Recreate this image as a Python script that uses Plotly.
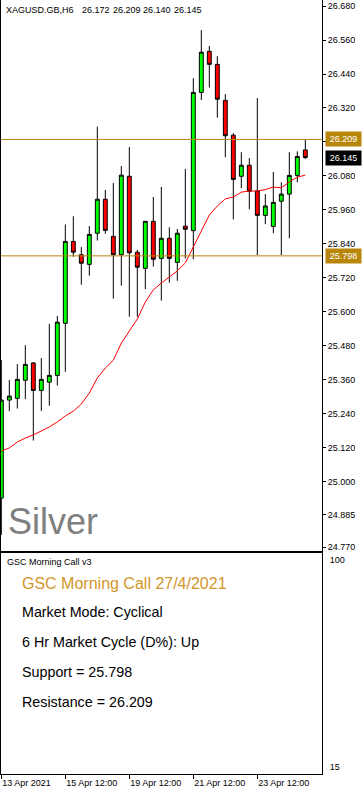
import plotly.graph_objects as go

# ---------------- data ----------------
bar_index = list(range(39))
opens = [24.943, 25.289, 25.295, 25.359, 25.420, 25.323, 25.352, 25.376, 25.560, 25.849,
         25.802, 25.768, 25.878, 25.998, 25.867, 25.802, 26.079, 25.811, 25.754, 25.920,
         25.789, 25.860, 25.775, 25.903, 25.887, 26.375, 26.520, 26.474, 26.347, 26.224,
         26.079, 26.118, 26.027, 25.941, 25.902, 25.991, 26.016, 26.082, 26.172]
highs = [25.430, 25.360, 25.416, 25.483, 25.423, 25.437, 25.558, 25.586, 25.909, 25.938,
         25.829, 25.903, 26.254, 26.031, 26.055, 26.115, 26.182, 25.819, 25.920, 26.006,
         26.041, 25.899, 25.893, 26.105, 26.425, 26.595, 26.539, 26.503, 26.369, 26.231,
         26.164, 26.143, 26.355, 26.016, 26.094, 26.058, 26.164, 26.167, 26.209]
lows = [24.813, 25.250, 25.259, 25.292, 25.146, 25.251, 25.269, 25.340, 25.389, 25.795,
        25.696, 25.728, 25.852, 25.876, 25.647, 25.693, 25.583, 25.583, 25.680, 25.760,
        25.640, 25.703, 25.710, 25.789, 25.786, 26.348, 26.392, 26.286, 26.146, 25.927,
        26.037, 25.962, 25.801, 25.910, 25.878, 25.801, 25.860, 26.058, 26.140]
closes = [25.289, 25.303, 25.362, 25.415, 25.323, 25.362, 25.376, 25.564, 25.849, 25.811,
          25.772, 25.874, 25.998, 25.888, 25.802, 26.083, 25.809, 25.758, 25.920, 25.786,
          25.860, 25.789, 25.878, 25.892, 26.375, 26.517, 26.474, 26.351, 26.222, 26.068,
          26.118, 26.026, 25.941, 25.974, 25.987, 26.016, 26.082, 26.149, 26.145]
moving_avg = [25.109, 25.120, 25.141, 25.155, 25.166, 25.180, 25.194, 25.212, 25.233, 25.250,
              25.275, 25.314, 25.367, 25.402, 25.430, 25.490, 25.533, 25.575, 25.635, 25.678,
              25.702, 25.723, 25.745, 25.773, 25.829, 25.889, 25.942, 25.974, 25.999, 26.006,
              26.023, 26.027, 26.027, 26.032, 26.041, 26.038, 26.059, 26.076, 26.083]

time_tick_index = [0, 8, 16, 24, 32]
time_tick_labels = ["13 Apr 2021", "15 Apr 12:00", "19 Apr 12:00", "21 Apr 12:00", "23 Apr 12:00"]
price_ticks = [26.680, 26.560, 26.440, 26.320, 26.200, 26.080, 25.960, 25.840, 25.720,
               25.600, 25.480, 25.360, 25.240, 25.120, 25.000, 24.885, 24.770]
hidden_price_ticks = [26.200]   # covered by the resistance tag in the reference
indicator_ticks = [100, 15]

symbol_label = "XAGUSD.GB,H6"
header_ohlc = [26.172, 26.209, 26.140, 26.145]
support = 25.798
resistance = 26.209
last_price = 26.145

panel_title = "GSC Morning Call 27/4/2021"
panel_name = "GSC Morning Call v3"
panel_lines = [
    "Market Mode: Cyclical",
    "6 Hr Market Cycle (D%): Up",
    "Support = 25.798",
    "Resistance = 26.209",
]

# ---------------- styling ----------------
GOLD = "#B8860B"
TITLE_GOLD = "#D2962A"
SMALL_FONT = "Liberation Sans, Arial, sans-serif"
ARIAL = "Liberation Sans, Arial, sans-serif"
SMALL = 9

fig = go.Figure()

fig.add_trace(go.Candlestick(
    x=bar_index, open=opens, high=highs, low=lows, close=closes,
    increasing=dict(line=dict(color="black", width=1), fillcolor="#00FF00"),
    decreasing=dict(line=dict(color="black", width=1), fillcolor="#FF0000"),
    whiskerwidth=0, xaxis="x", yaxis="y", showlegend=False, hoverinfo="skip",
))
fig.add_trace(go.Scatter(
    x=bar_index, y=moving_avg, mode="lines",
    line=dict(color="#FF0000", width=1), xaxis="x", yaxis="y",
    showlegend=False, hoverinfo="skip",
))
# empty trace so the indicator pane exists
fig.add_trace(go.Scatter(x=[None], y=[None], xaxis="x2", yaxis="y2",
                         showlegend=False, hoverinfo="skip"))

x_range = [-0.04, -0.04 + 321 / 8]

fig.update_layout(
    width=362, height=791,
    margin=dict(l=1, r=40, t=0, b=17, autoexpand=False),
    paper_bgcolor="white", plot_bgcolor="white",
    boxgap=0.3,
    xaxis=dict(domain=[0, 1], range=x_range, anchor="y", showticklabels=False,
               showline=True, mirror=True, linecolor="black", linewidth=1,
               showgrid=False, zeroline=False, ticks="", automargin=False,
               rangeslider=dict(visible=False), fixedrange=True),
    yaxis=dict(domain=[1 - 550.5 / 774, 1], range=[24.758, 26.7012], anchor="x",
               side="right", tickvals=price_ticks,
               ticktext=["" if v in hidden_price_ticks else f"{v:.3f}" for v in price_ticks],
               ticks="outside", ticklen=3, tickcolor="black", automargin=False,
               tickfont=dict(family=SMALL_FONT, size=SMALL, color="black"),
               showline=True, mirror=True, linecolor="black", linewidth=1,
               showgrid=False, zeroline=False, fixedrange=True),
    xaxis2=dict(domain=[0, 1], range=x_range, anchor="y2", matches="x",
                tickvals=time_tick_index, ticktext=time_tick_labels,
                ticks="outside", ticklen=4, tickcolor="black", tickangle=0,
                ticklabelposition="outside right", automargin=False,
                tickfont=dict(family=SMALL_FONT, size=SMALL, color="black"),
                showline=True, mirror=True, linecolor="black", linewidth=1,
                showgrid=False, zeroline=False, fixedrange=True),
    yaxis2=dict(domain=[0, 1 - 553 / 774], range=[12.13, 102.87], anchor="x2",
                side="right", tickvals=indicator_ticks,
                ticktext=[str(v) for v in indicator_ticks], ticks="",
                ticklabelstandoff=5, automargin=False,
                tickfont=dict(family=SMALL_FONT, size=SMALL, color="black"),
                showline=True, mirror=True, linecolor="black", linewidth=1,
                showgrid=False, zeroline=False, fixedrange=True),
)

# support / resistance lines
for lvl in (resistance, support):
    fig.add_shape(type="line", xref="x domain", x0=0, x1=1, yref="y", y0=lvl, y1=lvl,
                  line=dict(color=GOLD, width=1), layer="above")

# price tags on the right axis
for lvl, bg in ((resistance, GOLD), (support, GOLD), (last_price, "black")):
    fig.add_annotation(xref="paper", x=1, xshift=3, xanchor="left",
                       yref="y", y=lvl, yanchor="middle",
                       text=f"{lvl:.3f}", showarrow=False, bgcolor=bg,
                       width=33, height=12, borderpad=1,
                       font=dict(family=SMALL_FONT, size=SMALL, color="white"))


def py(ypx):
    return 1 - ypx / 774


def px(xpx):
    return (xpx - 1) / 321


# header: symbol and O H L C of the last bar
fig.add_annotation(xref="paper", yref="paper", x=px(4), y=py(10), xanchor="left",
                   yanchor="middle", text=symbol_label, showarrow=False,
                   font=dict(family=SMALL_FONT, size=SMALL, color="black"))
for i, v in enumerate(header_ohlc):
    fig.add_annotation(xref="paper", yref="paper", x=px(80 + 30.7 * i), y=py(10),
                       xanchor="left", yanchor="middle", text=f"{v:.3f}",
                       showarrow=False,
                       font=dict(family=SMALL_FONT, size=SMALL, color="black"))

fig.add_annotation(xref="paper", yref="paper", x=px(6), y=py(521), xanchor="left",
                   yanchor="middle", text="Silver", showarrow=False,
                   font=dict(family=ARIAL, size=36, color="#808080"))

fig.add_annotation(xref="paper", yref="paper", x=px(5), y=py(562), xanchor="left",
                   yanchor="middle", text=panel_name, showarrow=False,
                   font=dict(family=SMALL_FONT, size=SMALL, color="black"))

fig.add_annotation(xref="paper", yref="paper", x=px(20), y=py(583), xanchor="left",
                   yanchor="middle", text=panel_title, showarrow=False,
                   font=dict(family=ARIAL, size=16, color=TITLE_GOLD))

for i, line in enumerate(panel_lines):
    fig.add_annotation(xref="paper", yref="paper", x=px(20), y=py(612 + 30 * i),
                       xanchor="left", yanchor="middle", text=line, showarrow=False,
                       font=dict(family=ARIAL, size=14.3, color="black"))

fig.write_html("out.html", config={"displayModeBar": False},
               post_script="document.body.style.margin='0';")
